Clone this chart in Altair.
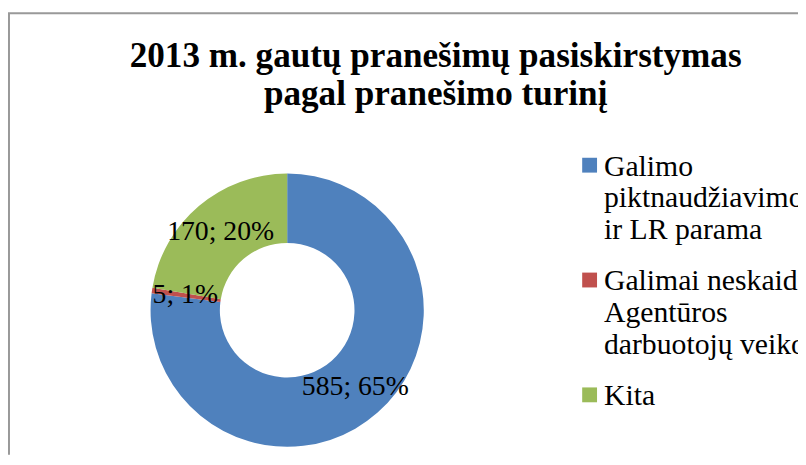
import altair as alt
import pandas as pd

# ---- data ----
title_lines = ["2013 m. gautų pranešimų pasiskirstymas", "pagal pranešimo turinį"]
categories = [
    "Galimo piktnaudžiavimo ir LR parama",
    "Galimai neskaidri Agentūros darbuotojų veikla",
    "Kita",
]
values = [585, 5, 170]
percents = [65, 1, 20]
legend_lines = [
    ["Galimo", "piktnaudžiavimo", "ir LR parama"],
    ["Galimai neskaidri", "Agentūros", "darbuotojų veikos"],
    ["Kita"],
]
colors = ["#4F81BD", "#C0504D", "#9BBB59"]

df = pd.DataFrame({
    "category": categories,
    "value": values,
    "label": [f"{v}; {p}%" for v, p in zip(values, percents)],
    "idx": list(range(len(categories))),
    "legend_text": ["\n".join(l) for l in legend_lines],
})

SERIF = "Liberation Serif"
CX, CY = 282, 303

color = alt.Color("category:N", scale=alt.Scale(domain=categories, range=colors), legend=None)
theta = alt.Theta("value:Q", stack=True)
order = alt.Order("idx:Q")

one = pd.DataFrame({"a": [0]})

frame_top = alt.Chart(one).mark_rule(color="#999999", strokeWidth=2).encode(
    x=alt.value(0), x2=alt.value(798), y=alt.value(3)
)
frame_left = alt.Chart(one).mark_rule(color="#999999", strokeWidth=2).encode(
    x=alt.value(1), y=alt.value(3), y2=alt.value(449)
)

arcs = alt.Chart(df).mark_arc(innerRadius=68, outerRadius=138, x=CX, y=CY).encode(
    theta=theta, color=color, order=order
)

labels = alt.Chart(df).mark_text(
    radius=104, x=CX, y=CY, font=SERIF, fontSize=28, color="black",
    align="center", baseline="middle"
).encode(theta=theta, order=order, text="label:N")

title = alt.Chart(one).mark_text(
    x=432, y=57, font=SERIF, fontSize=35.5, fontWeight="bold", color="black",
    align="center", baseline="alphabetic", lineHeight=39
).encode(text=alt.value(title_lines))

ypos = alt.Y("category:N", scale=alt.Scale(domain=categories, range=[156.5, 388.5], padding=0), axis=None)

swatches = alt.Chart(df).mark_square(size=225, x=587.5, opacity=1).encode(
    y=ypos, color=color
)

legend_text = alt.Chart(df).mark_text(
    x=602, dy=10.5, font=SERIF, fontSize=30, color="black", align="left",
    baseline="alphabetic", lineBreak="\n", lineHeight=32
).encode(y=ypos, text="legend_text:N")

chart = alt.layer(
    frame_top, frame_left, arcs, labels, title, swatches, legend_text
).properties(
    width=798, height=449, padding=0,
    autosize=alt.AutoSizeParams(type="none"), background="white"
).configure_view(stroke=None)

chart.save("out.html", embed_options={"renderer": "svg", "actions": False})
